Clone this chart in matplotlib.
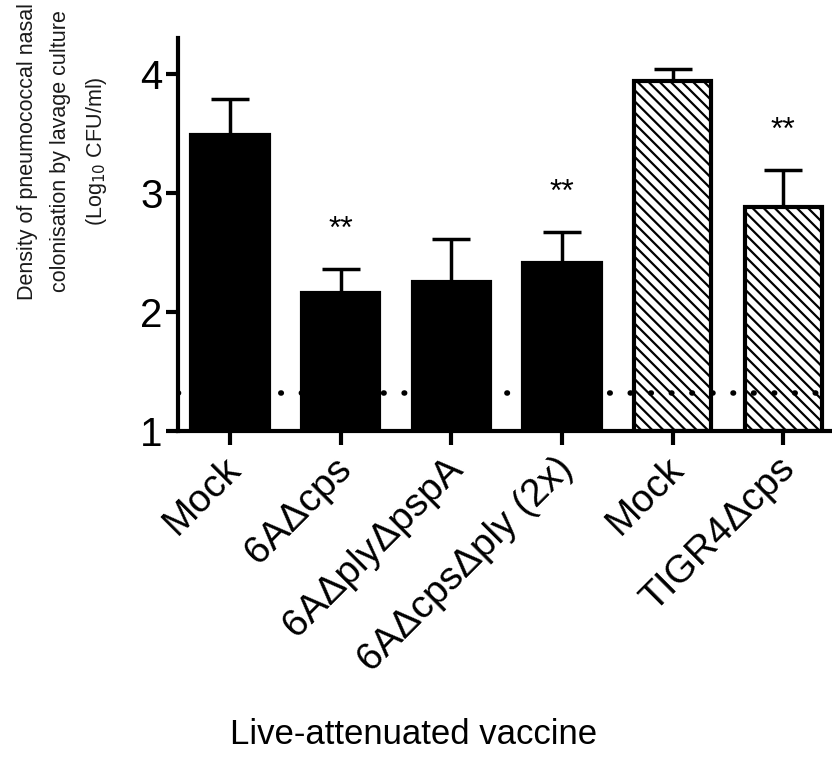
import matplotlib.pyplot as plt
from matplotlib import transforms
import numpy as np

plt.rcParams['font.family'] = ['Liberation Sans', 'DejaVu Sans']
plt.rcParams['hatch.linewidth'] = 1.6

# --- dane ---
labels = ["Mock", "6A\u0394cps", "6A\u0394ply\u0394pspA", "6A\u0394cps\u0394ply (2x)",
          "Mock", "TIGR4\u0394cps"]
means = [3.49, 2.16, 2.25, 2.41, 3.94, 2.88]
sem = [0.30, 0.20, 0.36, 0.26, 0.10, 0.31]
hatched = [False, False, False, False, True, True]
signif = ["", "**", "", "**", "", "**"]
detection_limit = 1.32

fig = plt.figure(figsize=(8.32, 7.61), dpi=100)
ax = fig.add_axes([0.214, 0.4336, 0.786, 0.5164])

x = np.arange(len(labels))
base = 1.0
for xi, m, s, h in zip(x, means, sem, hatched):
    if h:
        ax.bar(xi, m - base, bottom=base, width=0.70, color="white",
               edgecolor="black", linewidth=3, hatch="\\\\\\", zorder=2)
    else:
        ax.bar(xi, m - base, bottom=base, width=0.70, color="black",
               edgecolor="black", linewidth=3, zorder=2)
    ax.errorbar(xi, m, yerr=[[0], [s]], fmt="none", ecolor="black",
                elinewidth=2.5, capsize=14, capthick=2.5, zorder=1)

# granica wykrywalnosci
ax.axhline(detection_limit, color="black", linestyle=(0, (0.1, 3.6)),
           linewidth=4, dash_capstyle="round", zorder=3)

for xi, m, s, t in zip(x, means, sem, signif):
    if t:
        ax.text(xi, m + s + 0.33, t, ha="center", va="center", fontsize=23)

ax.set_xlim(-0.47, 5.44)
ax.set_ylim(1, 4.3)
ax.set_yticks([1, 2, 3, 4])
ax.set_xticks(x)
ax.set_xticklabels(labels, rotation=45, ha="right", va="top",
                   rotation_mode="anchor", fontsize=28)
ax.tick_params(axis="y", labelsize=29, width=3, length=9, pad=2)
ax.tick_params(axis="x", width=3, length=10, pad=4)
for lbl in ax.get_xticklabels():
    lbl.set_transform(lbl.get_transform() + transforms.ScaledTranslation(-0.07, 0, fig.dpi_scale_trans))

for sp in ["top", "right"]:
    ax.spines[sp].set_visible(False)
for sp in ["left", "bottom"]:
    ax.spines[sp].set_linewidth(3)

fig.text(63 / 832, 1 - 151.5 / 761,
         "Density of pneumococcal nasal\ncolonisation by lavage culture\n(Log$_{10}$ CFU/ml)",
         rotation=90, ha="center", va="center", fontsize=15.5, color="#1a1a1a",
         linespacing=1.75)
fig.text(0.497, 1 - 735 / 761, "Live-attenuated vaccine", ha="center", va="center",
         fontsize=25)

fig.savefig("out.png", dpi=100)
